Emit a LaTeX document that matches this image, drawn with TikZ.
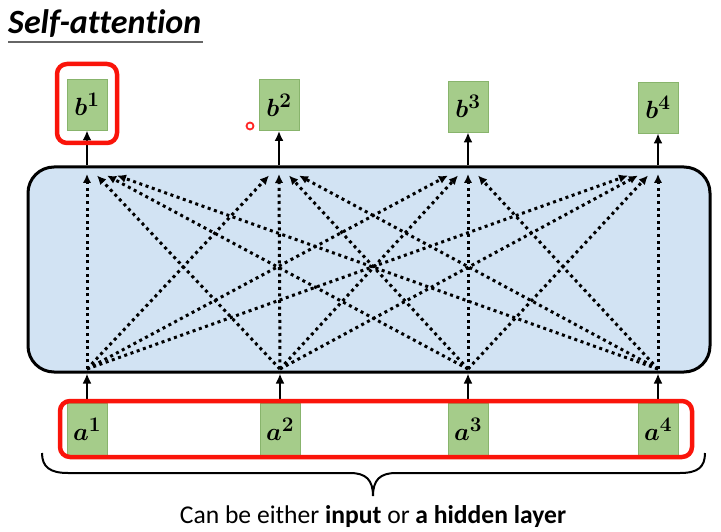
\documentclass[tikz,border=0pt]{standalone}
\usepackage{fontspec}
\setmainfont{Carlito}[Ligatures=NoCommon]
\setsansfont{Carlito}[Ligatures=NoCommon]
\usepackage{amsmath}
\usepackage{bm}
\usetikzlibrary{arrows.meta}
\definecolor{boxgreen}{RGB}{165,204,138}
\definecolor{boxgreenline}{RGB}{136,180,108}
\definecolor{attnblue}{RGB}{210,227,243}
\definecolor{pptred}{RGB}{250,20,10}
\tikzset{
  vecbox/.style={draw=boxgreenline, line width=0.8pt, fill=boxgreen, minimum width=40pt, minimum height=51pt, inner sep=0pt, font=\fontsize{32}{34}\selectfont},
  solidarrow/.style={line width=2.8pt, -{Latex[length=10pt,width=9pt]}},
  dotarrow/.style={line width=3pt, dash pattern=on 3pt off 3.6pt, -{Latex[length=9pt,width=8.5pt]}},
  redframe/.style={draw=pptred, line width=4.5pt, rounded corners=10pt},
}
\begin{document}
\begin{tikzpicture}[x=1pt,y=-1pt]
\useasboundingbox (0,0) rectangle (721,532);
% title
\node[anchor=base west, inner sep=0pt, font=\fontsize{34}{36}\selectfont\bfseries\itshape] (title) at (8,34) {Self-attention};
\draw[line width=2.2pt, black!60] (8,42) -- (203,42);
% attention block
\node[draw=black, line width=3pt, fill=attnblue, rounded corners=26pt, minimum width=682pt, minimum height=205pt, inner sep=0pt] (attn) at (369,269.5) {};
% output vectors
\node[vecbox] (b1) at (87,104.5) {$\bm{b^1}$};
\node[vecbox] (b2) at (279,105) {$\bm{b^2}$};
\node[vecbox] (b3) at (468,106.5) {$\bm{b^3}$};
\node[vecbox] (b4) at (658,107.5) {$\bm{b^4}$};
% input vectors
\node[vecbox, minimum height=52pt] (a1) at (87,429) {$\bm{a^1}$};
\node[vecbox, minimum height=52pt] (a2) at (280,429) {$\bm{a^2}$};
\node[vecbox, minimum height=52pt] (a3) at (468,429) {$\bm{a^3}$};
\node[vecbox, minimum height=52pt] (a4) at (658,429) {$\bm{a^4}$};
% solid arrows
\foreach \i in {1,2,3,4}{
  \draw[solidarrow] (attn.north -| b\i.south) -- (b\i.south);
  \draw[solidarrow] (a\i.north) -- (a\i.north |- attn.south);
}
% dotted attention connections
\coordinate (s1) at (87,369);
\coordinate (s2) at (280,369);
\coordinate (s3) at (468,369);
\coordinate (s4) at (658,369);
\coordinate (t1) at (87,174);
\coordinate (t2) at (279,174);
\coordinate (t3) at (468,174);
\coordinate (t4) at (658,174);
\foreach \i in {1,2,3,4}{
  \foreach \j in {1,2,3,4}{
    \pgfmathsetmacro{\off}{10*(\i-\j)}
    \pgfmathsetmacro{\dy}{(\i==\j) ? 0 : 1.5}
    \draw[dotarrow] (s\i) -- ([xshift=\off pt, yshift=-\dy pt]t\j);
  }
}
% red frames
\draw[redframe] (57,64) rectangle (117,143);
\draw[redframe] (60,401) rectangle (692,457);
% laser pointer dot
\node[circle, draw=red!85, fill=white, line width=1.8pt, minimum size=7pt, inner sep=0pt] (laser) at (250,126) {};
% brace
\coordinate (brL) at (42,453);
\coordinate (brR) at (705,453);
\coordinate (brT) at (373,496);
\draw[line width=2pt] (brL) .. controls (42,467) and (50,473) .. (68,473) -- (350,473) .. controls (366,473) and (373,480) .. (brT)
  .. controls (373,480) and (380,473) .. (396,473) -- (680,473) .. controls (698,473) and (705,467) .. (brR);
\node[anchor=base, inner sep=0pt, font=\fontsize{25.6}{27}\selectfont] (caption) at (373,523) {Can be either \textbf{input} or \textbf{a hidden layer}};
\end{tikzpicture}
\end{document}
